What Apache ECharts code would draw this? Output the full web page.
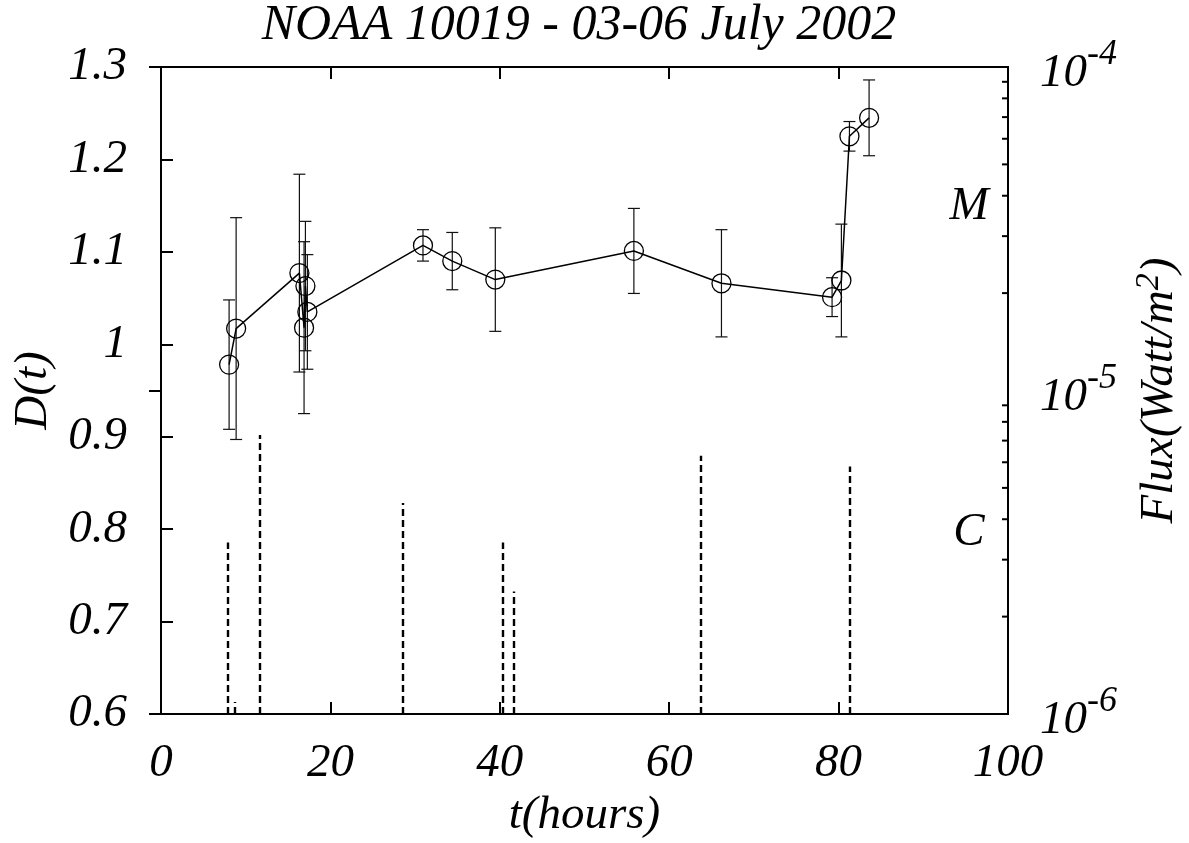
<!DOCTYPE html>
<html>
<head>
<meta charset="utf-8">
<script src="https://cdn.jsdelivr.net/npm/echarts@6/dist/echarts.min.js"></script>
<style>html,body{margin:0;padding:0;background:#fff}#c{width:1189px;height:843px}</style>
</head>
<body>
<div id="c"></div>
<script>
// Time of each D(t) estimate (hours)
const tHours = [8.04, 8.87, 16.34, 16.89, 17.05, 17.28, 30.93, 34.39, 39.47, 55.83, 66.17, 79.23, 80.33, 81.28, 83.60];
// D(t) values
const dValues = [0.978, 1.017, 1.077, 1.018, 1.063, 1.035, 1.107, 1.090, 1.070, 1.101, 1.066, 1.051, 1.069, 1.225, 1.245];
// error half-widths
const dErrors = [0.070, 0.120, 0.107, 0.093, 0.070, 0.062, 0.017, 0.031, 0.056, 0.046, 0.058, 0.021, 0.061, 0.016, 0.041];
// Flare times (hours) and peak GOES flux (W/m^2)
const flareTimes = [7.92, 8.79, 11.70, 28.58, 40.33, 41.67, 63.81, 81.39];
const flareFlux = [3.39e-6, 1.09e-6, 7.29e-6, 4.49e-6, 3.39e-6, 2.39e-6, 6.29e-6, 5.82e-6];
// Flux axis
const fluxMin = 1e-6, fluxMax = 1e-4;
const fluxMinorTicks = [2e-6,3e-6,4e-6,5e-6,6e-6,7e-6,8e-6,9e-6,2e-5,3e-5,4e-5,5e-5,6e-5,7e-5,8e-5,9e-5];
// Class labels (text, flux position)
const classLabels = ['M', 'C'];
const classFlux = [3.69e-5, 3.63e-6];
const classT = [95.4, 95.4];

const FONT = 'Liberation Serif';
const chart = echarts.init(document.getElementById('c'));

const errData = tHours.map((t, i) => [t, dValues[i] - dErrors[i], dValues[i] + dErrors[i]]);
const lineData = tHours.map((t, i) => [t, dValues[i]]);
const flareData = flareTimes.map((t, i) => [t, flareFlux[i]]);

const txt = { fontFamily: FONT, fontStyle: 'italic', fontSize: 47, color: '#000' };

chart.setOption({
  animation: false,
  backgroundColor: '#fff',
  title: {
    text: 'NOAA 10019 - 03-06 July 2002',
    left: 574, top: -4, textAlign: 'center',
    textStyle: { fontFamily: FONT, fontStyle: 'italic', fontWeight: 'normal', fontSize: 50, color: '#000' }
  },
  grid: { left: 161, right: 181, top: 67, bottom: 129, outerBoundsMode: 'none', containLabel: false,
    show: true, borderColor: '#000', borderWidth: 2, backgroundColor: 'transparent' },
  xAxis: [{
    type: 'value', min: 0, max: 100, interval: 20,
    name: 't(hours)', nameLocation: 'middle', nameGap: 76,
    nameTextStyle: txt,
    axisLine: { lineStyle: { color: '#000', width: 2 } },
    axisTick: { inside: true, length: 12, lineStyle: { color: '#000', width: 2 } },
    axisLabel: Object.assign({ margin: 26 }, txt),
    splitLine: { show: false }
  }, {
    type: 'value', min: 0, max: 100, interval: 20, position: 'top',
    axisLine: { show: false },
    axisTick: { inside: true, length: 12, lineStyle: { color: '#000', width: 2 } },
    axisLabel: { show: false }, splitLine: { show: false }
  }],
  yAxis: [{
    type: 'value', min: 0.6, max: 1.3, interval: 0.1,
    name: 'D(t)', nameLocation: 'middle', nameGap: 104, nameRotate: 90,
    nameTextStyle: txt,
    axisLine: { lineStyle: { color: '#000', width: 2 } },
    axisTick: { inside: true, length: 12, lineStyle: { color: '#000', width: 2 } },
    axisLabel: Object.assign({ margin: 34, formatter: v => (Math.round(v * 10) / 10).toString() }, txt),
    splitLine: { show: false }
  }, {
    type: 'log', logBase: 10, min: fluxMin, max: fluxMax, position: 'right',
    name: '{a|Flux(Watt/m}{s|2}{a|)}', nameLocation: 'middle', nameGap: 124, nameRotate: 90,
    nameTextStyle: Object.assign({}, txt, { rich: { a: txt, s: Object.assign({}, txt, { fontSize: 34, padding: [0, 0, 22, 0] }) } }),
    axisLine: { lineStyle: { color: '#000', width: 2 } },
    axisTick: { inside: true, length: 12, lineStyle: { color: '#000', width: 2 } },
    axisLabel: {
      margin: 32,
      formatter: v => '{b|10}{s|' + Math.round(Math.log10(v)) + '}',
      rich: { b: Object.assign({}, txt, { padding: [14, 0, 0, 0] }), s: Object.assign({}, txt, { fontSize: 36, padding: [0, 0, 24, 0] }) }
    },
    splitLine: { show: false }
  }],
  series: [
    {
      type: 'custom', name: 'flares', xAxisIndex: 0, yAxisIndex: 1, data: flareData, z: 2,
      renderItem: (params, api) => {
        const top = api.coord([api.value(0), api.value(1)]);
        const bot = api.coord([api.value(0), fluxMin]);
        const x = Math.round(top[0]);
        return { type: 'line', shape: { x1: x, y1: bot[1], x2: x, y2: top[1] },
          style: { stroke: '#000', lineWidth: 2.4, lineDash: [7, 4] } };
      }
    },
    {
      type: 'custom', name: 'minorTicks', xAxisIndex: 0, yAxisIndex: 1, z: 3,
      data: fluxMinorTicks.map(v => [0, v]),
      renderItem: (params, api) => {
        const p = api.coord([0, api.value(1)]);
        const xr = params.coordSys.x + params.coordSys.width;
        return { type: 'line', shape: { x1: xr - 6, y1: p[1], x2: xr, y2: p[1] },
          style: { stroke: '#000', lineWidth: 2 } };
      }
    },
    {
      type: 'custom', name: 'errors', xAxisIndex: 0, yAxisIndex: 0, data: errData, z: 3,
      renderItem: (params, api) => {
        const x = api.value(0);
        const lo = api.coord([x, api.value(1)]);
        const hi = api.coord([x, api.value(2)]);
        const hw = 6, st = { stroke: '#111', lineWidth: 1.2 };
        return { type: 'group', children: [
          { type: 'line', shape: { x1: lo[0], y1: lo[1], x2: hi[0], y2: hi[1] }, style: st },
          { type: 'line', shape: { x1: lo[0] - hw, y1: lo[1], x2: lo[0] + hw, y2: lo[1] }, style: st },
          { type: 'line', shape: { x1: hi[0] - hw, y1: hi[1], x2: hi[0] + hw, y2: hi[1] }, style: st }
        ] };
      }
    },
    {
      type: 'line', name: 'D(t)', xAxisIndex: 0, yAxisIndex: 0, data: lineData, z: 4,
      symbol: 'circle', symbolSize: 19,
      lineStyle: { color: '#000', width: 1.5 },
      itemStyle: { color: 'rgba(0,0,0,0)', borderColor: '#000', borderWidth: 1.3 }
    },
    {
      type: 'scatter', name: 'class', xAxisIndex: 0, yAxisIndex: 1, z: 5,
      data: classLabels.map((c, i) => ({ value: [classT[i], classFlux[i]], name: c })),
      symbolSize: 0, itemStyle: { opacity: 1 },
      label: Object.assign({ show: true, position: 'inside', formatter: p => p.name, textBorderWidth: 0 }, txt)
    }
  ]
});
</script>
</body>
</html>
